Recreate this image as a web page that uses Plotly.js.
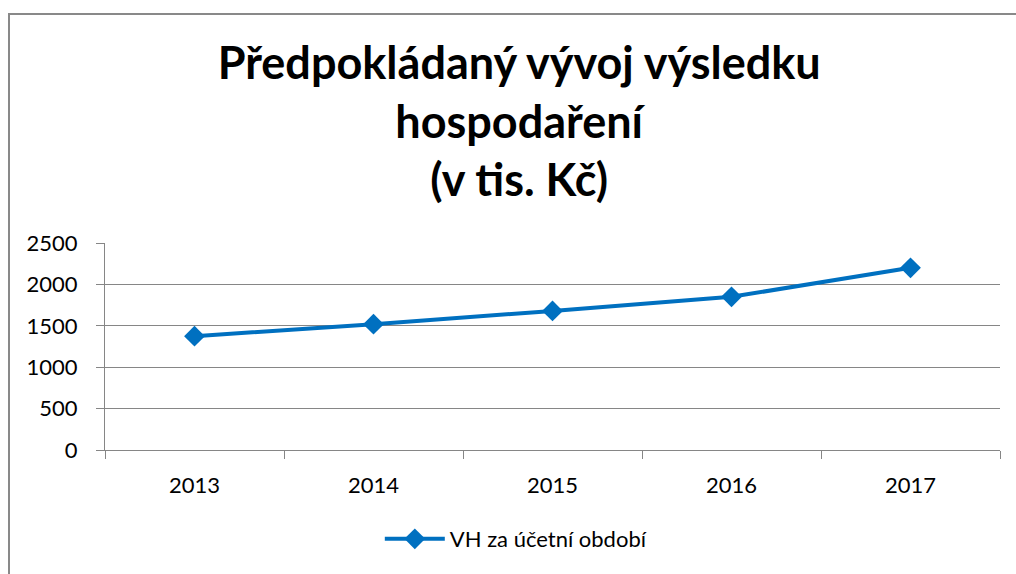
<!DOCTYPE html>
<html>
<head>
<meta charset="utf-8">
<script src="https://cdn.plot.ly/plotly-3.0.1.min.js"></script>
<style>
  html, body { margin: 0; padding: 0; background: #fff; overflow: hidden; }
  #chart { width: 1016px; height: 574px; }
  #frame { position: absolute; left: 8px; top: 13px; width: 1100px; height: 700px;
           border-left: 2px solid #898989; border-top: 2px solid #898989; pointer-events: none; }
</style>
</head>
<body>
<div id="chart"></div>
<div id="frame"></div>
<script>
const years = ["2013", "2014", "2015", "2016", "2017"];
const vhValues = [1375, 1520, 1680, 1850, 2200];
const seriesName = "VH za účetní období";
const chartTitle = "Předpokládaný vývoj výsledku<br>hospodaření<br>(v tis. Kč)";
const yTicks = [0, 500, 1000, 1500, 2000, 2500];

const FONT = "Lato, 'Open Sans', sans-serif";
const GRID = "#868686";

const trace = {
  x: years,
  y: vhValues,
  name: seriesName,
  type: "scatter",
  mode: "lines+markers",
  line: { color: "#0070C0", width: 4 },
  marker: { symbol: "diamond", size: 16, color: "#0070C0" }
};

const layout = {
  width: 1016,
  height: 574,
  margin: { l: 105, r: 16, t: 243, b: 124 },
  paper_bgcolor: "#fff",
  plot_bgcolor: "#fff",
  font: { family: FONT, size: 22, color: "#000" },
  title: {
    text: chartTitle,
    font: { family: FONT, size: 45, color: "#000", weight: "bold" },
    x: 0.511, xanchor: "center",
    y: 0.862, yanchor: "top",
    xref: "container", yref: "container"
  },
  xaxis: {
    type: "category",
    range: [-0.5, 4.5],
    tickson: "boundaries",
    ticks: "outside",
    ticklen: 8,
    tickcolor: GRID,
    tickwidth: 1,
    ticklabelstandoff: 16,
    showline: true,
    linecolor: GRID,
    linewidth: 1,
    showgrid: false,
    tickfont: { family: FONT, size: 22 },
    fixedrange: true
  },
  yaxis: {
    range: [0, 2500],
    tickvals: yTicks,
    ticks: "outside",
    ticklen: 8,
    tickcolor: GRID,
    ticklabelstandoff: 14,
    showline: true,
    linecolor: GRID,
    linewidth: 1,
    showgrid: true,
    gridcolor: GRID,
    gridwidth: 1,
    zeroline: false,
    tickfont: { family: FONT, size: 22 },
    fixedrange: true
  },
  showlegend: true,
  legend: {
    orientation: "h",
    x: 0.459, xanchor: "center",
    y: -0.43, yanchor: "middle",
    itemwidth: 60,
    font: { family: FONT, size: 22 },
    bgcolor: "rgba(0,0,0,0)"
  }
};

Plotly.newPlot("chart", [trace], layout, { displayModeBar: false, staticPlot: true });
</script>
</body>
</html>
